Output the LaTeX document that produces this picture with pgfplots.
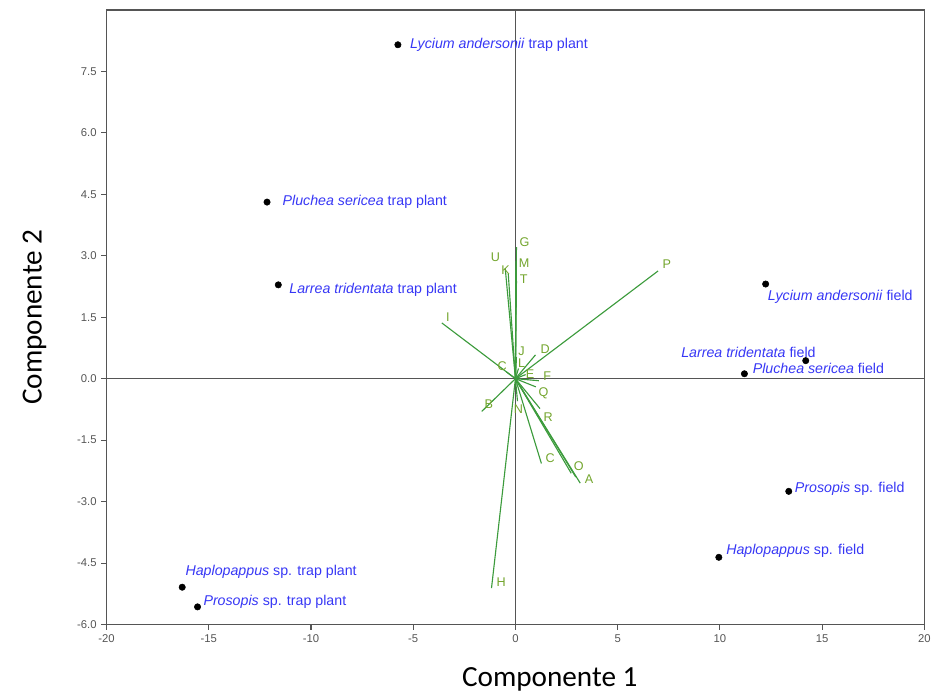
\documentclass[border=0pt]{standalone}
\usepackage{pgfplots}
\pgfplotsset{compat=1.18}
\usepackage{fontspec}
\setmainfont{Liberation Sans}
\newfontfamily\carlito{Carlito}
\definecolor{vecline}{RGB}{60,155,60}
\definecolor{veclab}{RGB}{115,165,45}
\definecolor{spblue}{RGB}{55,55,245}
\definecolor{axgray}{RGB}{85,85,85}
\begin{document}
\begin{tikzpicture}
\begin{axis}[
  name=ax,
  at={(0,0)}, anchor=south west,
  scale only axis,
  width=615.75pt, height=462.75pt,
  xmin=-20, xmax=20, ymin=-6, ymax=9,
  xtick={-20,-15,...,20},
  ytick={-6,-4.5,-3,-1.5,0,1.5,3,4.5,6,7.5},
  xtick pos=left, ytick pos=left,
  tick align=outside,
  major tick length=4pt,
  axis line style={axgray, line width=1.2pt},
  tick style={axgray, line width=0.8pt},
  /pgf/number format/assume math mode=true,
  yticklabel style={/pgf/number format/.cd, fixed, fixed zerofill, precision=1},
  xticklabel style={/pgf/number format/.cd, fixed, precision=0},
  ticklabel style={font=\fontsize{8.5}{10}\selectfont, text=axgray},
  xlabel={\carlito\fontsize{22}{26}\selectfont Componente 1},
  ylabel={\carlito\fontsize{22}{26}\selectfont Componente 2},
  xlabel style={at={(axis description cs:0.542,-0.090)}, anchor=center},
  ylabel style={at={(axis description cs:-0.088,0.5)}, anchor=center, rotate=0},
  clip=false,
]
% cross lines
\addplot[axgray, line width=1.1pt] coordinates {(-20,0) (20,0)};
\addplot[axgray, line width=1.1pt] coordinates {(0,-6) (0,9)};

% loading vectors
\addplot[vecline, line width=0.85pt, quiver={u=\thisrow{u}, v=\thisrow{v}}, -] table {
x y u v
0 0 0.05 3.21
0 0 0.02 2.87
0 0 0.05 2.38
0 0 -0.50 2.70
0 0 -0.35 2.55
0 0 -3.60 1.36
0 0 -0.45 0.17
0 0 0.05 0.53
0 0 0.15 0.25
0 0 0.98 0.58
0 0 0.50 0.10
0 0 1.15 -0.05
0 0 1.00 -0.20
0 0 -1.65 -0.80
0 0 0.10 -0.55
0 0 1.20 -0.73
0 0 1.27 -2.07
0 0 2.73 -2.31
0 0 2.95 -2.40
0 0 3.17 -2.55
0 0 -1.17 -5.11
0 0 6.98 2.63
};

% vector labels
\begin{scope}[every node/.style={text=veclab, font=\fontsize{9.5}{11}\selectfont, inner sep=0pt}]
\node at (axis cs:0.45,3.34) {G};
\node at (axis cs:0.42,2.82) {M};
\node at (axis cs:0.40,2.43) {T};
\node at (axis cs:-0.98,2.96) {U};
\node at (axis cs:-0.48,2.65) {K};
\node at (axis cs:-3.30,1.50) {I};
\node at (axis cs:-0.65,0.30) {C};
\node at (axis cs:0.30,0.68) {J};
\node at (axis cs:0.30,0.37) {L};
\node at (axis cs:0.72,0.12) {E};
\node at (axis cs:1.45,0.73) {D};
\node at (axis cs:1.55,0.05) {F};
\node at (axis cs:1.38,-0.36) {Q};
\node at (axis cs:-1.30,-0.63) {B};
\node at (axis cs:0.15,-0.75) {N};
\node at (axis cs:1.60,-0.93) {R};
\node at (axis cs:1.70,-1.93) {C};
\node at (axis cs:3.10,-2.13) {O};
\node at (axis cs:3.60,-2.45) {A};
\node at (axis cs:-0.70,-4.96) {H};
\node at (axis cs:7.40,2.80) {P};
\end{scope}

% species scores
\addplot[only marks, mark=*, mark size=2.4pt, black] coordinates {
(-5.75,8.15) (-12.15,4.31) (-11.60,2.29)
(12.24,2.31) (14.20,0.44) (11.20,0.12)
(13.37,-2.75) (9.95,-4.36)
(-16.30,-5.09) (-15.55,-5.57)
};

\begin{scope}[every node/.style={text=spblue, font=\fontsize{10.7}{12}\selectfont, anchor=west, inner sep=0pt}]
\node at (axis cs:-5.17,8.15) {\textit{Lycium andersonii} trap plant};
\node at (axis cs:-11.40,4.31) {\textit{Pluchea sericea} trap plant};
\node at (axis cs:-11.07,2.17) {\textit{Larrea tridentata} trap plant};
\node at (axis cs:12.34,2.00) {\textit{Lycium andersonii} field};
\node at (axis cs:8.10,0.63) {\textit{Larrea tridentata} field};
\node at (axis cs:11.60,0.24) {\textit{Pluchea sericea} field};
\node at (axis cs:13.66,-2.68) {\textit{Prosopis} sp. field};
\node at (axis cs:10.30,-4.21) {\textit{Haplopappus} sp. field};
\node at (axis cs:-16.15,-4.72) {\textit{Haplopappus} sp. trap plant};
\node at (axis cs:-15.27,-5.45) {\textit{Prosopis} sp. trap plant};
\end{scope}
\end{axis}
\path ([shift={(-80.25pt,-50.25pt)}]ax.south west) rectangle ([shift={(5.25pt,7.5pt)}]ax.north east);
\end{tikzpicture}
\end{document}
